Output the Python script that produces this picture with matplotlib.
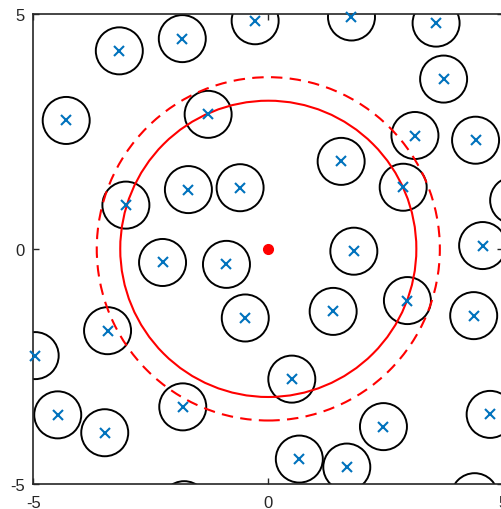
import numpy as np
import matplotlib
matplotlib.use("Agg")
import matplotlib.pyplot as plt
from matplotlib.patches import Circle

plt.rcParams['font.family'] = ['Liberation Sans', 'DejaVu Sans']
plt.rcParams['axes.unicode_minus'] = False

# obstacle centres
cx = [-3.17, -1.83, -0.28, 1.77, 3.57, 3.73, -4.30, -1.28, 3.12, 4.41,
      1.55, 2.87, -3.03, -1.70, -0.60, 5.22, -2.25, -0.89, 1.82, 4.56,
      -0.49, -3.42, -4.96, 1.38, 2.96, 4.37, 0.50, -4.48, -3.48, -1.82,
      2.45, 4.72, 0.66, 1.67, -1.79, 4.39]
cy = [4.21, 4.47, 4.85, 4.93, 4.80, 3.61, 2.73, 2.86, 2.41, 2.31,
      1.86, 1.31, 0.93, 1.26, 1.30, 1.03, -0.29, -0.33, -0.05, 0.07,
      -1.47, -1.74, -2.27, -1.33, -1.10, -1.42, -2.77, -3.53, -3.91, -3.36,
      -3.78, -3.52, -4.47, -4.64, -5.44, -5.27]
obstacle_r = 0.5

# sensing ranges around the robot at the origin
robot = (0.0, 0.0)
range_inner = 3.15
range_outer = 3.65

lim = (-5, 5)
ticks = [-5, 0, 5]

fig = plt.figure(figsize=(5.02, 5.10), dpi=100)
ax = fig.add_axes([33.3 / 502, 25 / 510, 470 / 502, 470.3 / 510])

for x, y in zip(cx, cy):
    ax.add_patch(Circle((x, y), obstacle_r, fill=False, edgecolor='black', lw=1.4))

# markers only for centres inside the box, drawn unclipped like MATLAB does
inside = [(x, y) for x, y in zip(cx, cy) if lim[0] <= x <= lim[1] and lim[0] <= y <= lim[1]]
mx, my = zip(*inside)
ax.plot(mx, my, 'x', color='#0072BD', ms=7, mew=1.5, clip_on=False, zorder=4)

ax.add_patch(Circle(robot, range_inner, fill=False, edgecolor='red', lw=1.5))
ax.add_patch(Circle(robot, range_outer, fill=False, edgecolor='red', lw=1.5,
                    linestyle=(0, (5.5, 3.5))))
ax.plot(robot[0], robot[1], 'o', color='red', ms=7, zorder=5)

ax.set_xlim(lim)
ax.set_ylim(lim)
ax.set_aspect('auto')
ax.set_xticks(ticks)
ax.set_yticks(ticks)
ax.tick_params(direction='in', length=4, width=1, colors='#262626',
               labelsize=12, top=True, right=True)
ax.tick_params(axis='x', pad=8)
ax.tick_params(axis='y', pad=6)
for s in ax.spines.values():
    s.set_color('#262626')
    s.set_linewidth(1.2)

fig.savefig('out.png', dpi=100)
